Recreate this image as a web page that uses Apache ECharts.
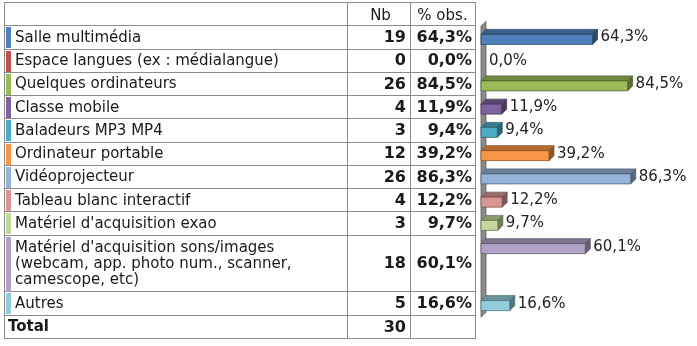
<!DOCTYPE html>
<html>
<head>
<meta charset="utf-8">
<script src="https://cdn.jsdelivr.net/npm/echarts@6/dist/echarts.min.js"></script>
<style>
  html, body { margin: 0; padding: 0; background: #fff; }
  #main { width: 697px; height: 346px; }
</style>
</head>
<body>
<div id="main"></div>
<script>
// data
var categories = [
  'Salle multimédia',
  'Espace langues (ex : médialangue)',
  'Quelques ordinateurs',
  'Classe mobile',
  'Baladeurs MP3 MP4',
  'Ordinateur portable',
  'Vidéoprojecteur',
  'Tableau blanc interactif',
  "Matériel d'acquisition exao",
  "Matériel d'acquisition sons/images\n(webcam, app. photo num., scanner,\ncamescope, etc)",
  'Autres'
];
var counts = [19, 0, 26, 4, 3, 12, 26, 4, 3, 18, 5];
var percents = [64.3, 0.0, 84.5, 11.9, 9.4, 39.2, 86.3, 12.2, 9.7, 60.1, 16.6];
var totalLabel = 'Total';
var totalCount = 30;
var headers = ['Nb', '% obs.'];

// office-like palette, one per row
var colors = ['#4F81BD', '#C0504D', '#9BBB59', '#8064A2', '#4BACC6', '#F79646',
  '#95B3D7', '#D99694', '#C3D69B', '#B2A2C7', '#92CDDC'];

// layout: height of each row in "single row" units
var rowSpans = [1, 1, 1, 1, 1, 1, 1, 1, 1, 2.45, 1];

var FONT = '"DejaVu Sans", Verdana, sans-serif';
var TXT = '#1a1a1a';
var LINE = '#8c8c8c';

function fmt(v) {
  return v.toFixed(1).replace('.', ',') + '%';
}

function shade(hex, k) {
  var n = parseInt(hex.slice(1), 16);
  var r = Math.round(((n >> 16) & 255) * k);
  var g = Math.round(((n >> 8) & 255) * k);
  var b = Math.round((n & 255) * k);
  return 'rgb(' + r + ',' + g + ',' + b + ')';
}

// row starts (header sits at -1..0)
var rowStarts = [];
var acc = 0;
for (var i = 0; i < rowSpans.length; i++) {
  rowStarts.push(acc);
  acc += rowSpans[i];
}
var totalStart = acc;
var yMax = acc + 1;

var tableRows = [{ kind: 'header', start: -1, span: 1 }];
for (var i = 0; i < categories.length; i++) {
  tableRows.push({
    kind: 'cat', start: rowStarts[i], span: rowSpans[i],
    label: categories[i], nb: String(counts[i]), pct: fmt(percents[i]), color: colors[i]
  });
}
tableRows.push({ kind: 'total', start: totalStart, span: 1, label: totalLabel, nb: String(totalCount), pct: '' });

// table geometry (pixels inside the table grid)
var TABLE_W = 471;
var COL_A = 343;
var COL_B = 406;

function px(v) { return Math.round(v) + 0.5; }

function hline(x0, x1, y) {
  return { type: 'line', shape: { x1: x0, y1: px(y), x2: x1, y2: px(y) }, style: { stroke: LINE, lineWidth: 1 } };
}
function vline(x, y0, y1) {
  return { type: 'line', shape: { x1: px(x), y1: y0, x2: px(x), y2: y1 }, style: { stroke: LINE, lineWidth: 1 } };
}

function renderTableRow(params, api) {
  var row = tableRows[api.value(0)];
  var y0 = api.coord([0, row.start])[1];
  var y1 = api.coord([0, row.start + row.span])[1];
  var x0 = api.coord([0, row.start])[0];
  var x1 = api.coord([TABLE_W, row.start])[0];
  var ca = api.coord([COL_A, row.start])[0];
  var cb = api.coord([COL_B, row.start])[0];
  var ym = (y0 + y1) / 2 + 1;
  var ch = [];
  if (row.kind === 'header') ch.push(hline(x0, x1, y0));
  ch.push(hline(x0, x1 + 1, y1));
  ch.push(vline(x0, y0, y1 + 1));
  ch.push(vline(x1, y0, y1 + 1));
  ch.push(vline(ca, y0, y1 + 1));
  ch.push(vline(cb, y0, y1 + 1));
  if (row.kind === 'header') {
    ch.push({ type: 'text', style: { text: headers[0], x: (ca + cb) / 2 + 2, y: ym + 1, align: 'center', verticalAlign: 'middle', font: '15px ' + FONT, fill: TXT } });
    ch.push({ type: 'text', style: { text: headers[1], x: (cb + x1) / 2, y: ym + 1, align: 'center', verticalAlign: 'middle', font: '15px ' + FONT, fill: TXT } });
    return { type: 'group', children: ch };
  }
  if (row.kind === 'cat') {
    ch.push({ type: 'rect', shape: { x: Math.round(x0) + 2, y: Math.round(y0) + 2, width: 5, height: Math.round(y1 - y0) - 2 }, style: { fill: row.color } });
    ch.push({ type: 'text', style: { text: row.label, x: x0 + 11, y: ym, align: 'left', verticalAlign: 'middle', font: '15px ' + FONT, lineHeight: 16, fill: TXT } });
  } else {
    ch.push({ type: 'text', style: { text: row.label, x: x0 + 4, y: ym, align: 'left', verticalAlign: 'middle', font: 'bold 15px ' + FONT, fill: TXT } });
  }
  ch.push({ type: 'text', style: { text: row.nb, x: cb - 4, y: ym, align: 'right', verticalAlign: 'middle', font: 'bold 16px ' + FONT, fill: TXT } });
  if (row.pct) {
    ch.push({ type: 'text', style: { text: row.pct, x: x1 - 3, y: ym, align: 'right', verticalAlign: 'middle', font: 'bold 16px ' + FONT, fill: TXT } });
  }
  return { type: 'group', children: ch };
}

var DEPTH = 5;
var BAR_H = 10;

function renderBar(params, api) {
  var v = api.value(0);
  var start = api.value(1);
  var idx = api.value(2);
  var xz = api.coord([0, start])[0];
  var xe = api.coord([v, start])[0];
  var top = api.coord([0, start])[1];
  var unit = api.size([0, 1])[1];
  var cy = top + unit / 2 + 2.5;
  var f0 = cy - BAR_H / 2, f1 = cy + BAR_H / 2;
  var c = colors[idx];
  var edge = shade(c, 0.5);
  var ch = [];
  if (xe - xz > 0.5) {
    ch.push({ type: 'polygon', shape: { points: [[xz, f0], [xe, f0], [xe + DEPTH, f0 - DEPTH], [xz + DEPTH, f0 - DEPTH]] },
      style: { fill: shade(c, 0.72), stroke: edge, lineWidth: 0.7 } });
    ch.push({ type: 'polygon', shape: { points: [[xe, f0], [xe + DEPTH, f0 - DEPTH], [xe + DEPTH, f1 - DEPTH], [xe, f1]] },
      style: { fill: shade(c, 0.58), stroke: edge, lineWidth: 0.7 } });
    ch.push({ type: 'rect', shape: { x: xz, y: f0, width: xe - xz, height: BAR_H },
      style: { fill: c, stroke: edge, lineWidth: 0.7 } });
  }
  ch.push({ type: 'text', style: { text: fmt(v), x: xe + DEPTH + 3, y: cy - 2, align: 'left', verticalAlign: 'middle', font: '15px ' + FONT, fill: '#222' } });
  return { type: 'group', children: ch };
}

function renderWall(params, api) {
  var xz = api.coord([0, 0])[0];
  var yt = api.coord([0, 0])[1] + 1;
  var yb = api.coord([0, totalStart])[1] + 2.5;
  return {
    type: 'polygon',
    shape: { points: [[xz, yt], [xz + DEPTH, yt - DEPTH], [xz + DEPTH, yb - DEPTH], [xz, yb]] },
    style: { fill: '#8a8a8a', stroke: '#5e5e5e', lineWidth: 0.8 }
  };
}

var tableData = tableRows.map(function (r, k) { return [k]; });
var barData = percents.map(function (p, i) { return [p, rowStarts[i], i]; });

var chart = echarts.init(document.getElementById('main'), null, { renderer: 'canvas' });
chart.setOption({
  backgroundColor: '#ffffff',
  animation: false,
  grid: [
    { left: 4, top: 2, width: TABLE_W, height: 336, outerBoundsMode: 'none' },
    { left: 481, top: 2, width: 173.5, height: 336, outerBoundsMode: 'none' }
  ],
  xAxis: [
    { type: 'value', gridIndex: 0, min: 0, max: TABLE_W, show: false },
    { type: 'value', gridIndex: 1, min: 0, max: 100, show: false }
  ],
  yAxis: [
    { type: 'value', gridIndex: 0, min: -1, max: yMax, inverse: true, show: false },
    { type: 'value', gridIndex: 1, min: -1, max: yMax, inverse: true, show: false }
  ],
  series: [
    { type: 'custom', xAxisIndex: 0, yAxisIndex: 0, renderItem: renderTableRow, data: tableData, clip: false, silent: true },
    { type: 'custom', xAxisIndex: 1, yAxisIndex: 1, renderItem: renderWall, data: [[0, 0]], clip: false, silent: true },
    { type: 'custom', xAxisIndex: 1, yAxisIndex: 1, renderItem: renderBar, data: barData, clip: false, silent: true,
      encode: { x: 0, y: 1 } }
  ]
});
</script>
</body>
</html>
